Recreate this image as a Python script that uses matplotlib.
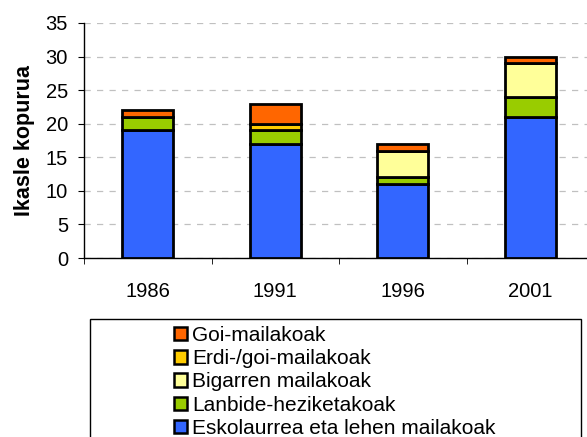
import matplotlib
matplotlib.use("Agg")
import matplotlib.pyplot as plt
from matplotlib.patches import Rectangle, Patch
import numpy as np

plt.rcParams['font.family'] = ['Liberation Sans', 'DejaVu Sans']

years = ["1986", "1991", "1996", "2001"]
series_names = ["Eskolaurrea eta lehen mailakoak", "Lanbide-heziketakoak",
                "Bigarren mailakoak", "Erdi-/goi-mailakoak", "Goi-mailakoak"]
eskolaurrea = [19, 17, 11, 21]
lanbide = [2, 2, 1, 3]
bigarren = [0, 0, 4, 5]
erdi_goi = [0, 1, 0, 0]
goi = [1, 3, 1, 1]
colors = ["#3366FF", "#99CC00", "#FFFF99", "#FFCC00", "#FF6600"]
yticks = [0, 5, 10, 15, 20, 25, 30, 35]

data = [eskolaurrea, lanbide, bigarren, erdi_goi, goi]

fig = plt.figure(figsize=(5.87, 4.37), dpi=100)
ax = fig.add_axes([84/587, (437-258)/437, (594-84)/587, (258-23)/437])

x = np.arange(len(years))
bottom = np.zeros(len(years))
handles = []
for vals, c, name in zip(data, colors, series_names):
    v = np.array(vals, dtype=float)
    ax.bar(x, v, 0.4, bottom=bottom, color=c, edgecolor='black', linewidth=2, zorder=3)
    bottom += v
    handles.append(Patch(facecolor=c, edgecolor='black', linewidth=1.8, label=name))

FS = 14.5
ax.set_xlim(-0.5, 3.5)
ax.set_ylim(0, 35)
ax.set_yticks(yticks)
ax.set_yticklabels([str(t) for t in yticks], fontsize=FS)
ax.set_xticks(x)
ax.set_xticklabels(years, fontsize=FS)
ax.tick_params(axis='x', which='major', length=0, pad=17)
ax.set_xticks([-0.5, 0.5, 1.5, 2.5, 3.5], minor=True)
ax.tick_params(axis='x', which='minor', length=4.5, color='black', direction='out')
ax.tick_params(axis='y', length=4.5, direction='out', pad=7)
ax.yaxis.grid(True, linestyle=(0, (5, 5)), color='#C0C0C0', linewidth=0.9, zorder=0)
ax.set_axisbelow(True)
for s in ['top', 'right']:
    ax.spines[s].set_visible(False)
for s in ['left', 'bottom']:
    ax.spines[s].set_color('black')
    ax.spines[s].set_linewidth(1)
ax.set_ylabel("Ikasle kopurua", fontsize=15.5, fontweight='bold', labelpad=8)

# legend frame
fig.patches.append(Rectangle((90/587, -0.05), (581-90)/587, (437-319)/437 + 0.05,
                             transform=fig.transFigure, facecolor='white',
                             edgecolor='black', linewidth=1, zorder=0))
leg = fig.legend(handles=handles[::-1], loc='upper left',
                 bbox_to_anchor=(172/587, 1 - 324/437), frameon=False,
                 fontsize=15, handlelength=0.6, handleheight=0.6,
                 handletextpad=0.25, labelspacing=0.2, borderpad=0.1,
                 borderaxespad=0)

fig.savefig("out.png", dpi=100)
